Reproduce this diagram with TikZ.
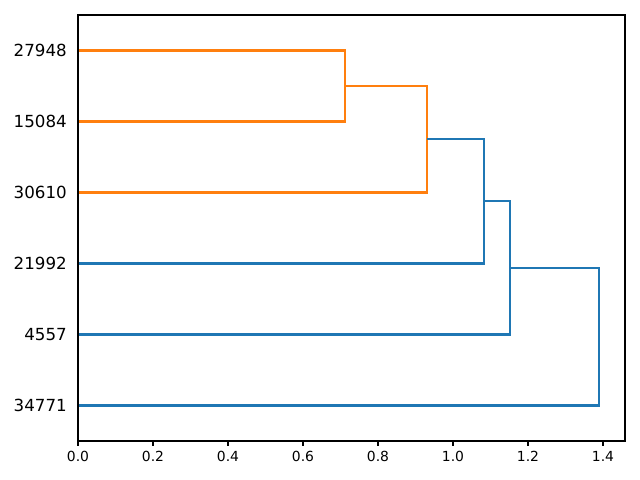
\documentclass[tikz,border=0pt]{standalone}
\usepackage{fontspec}
\setmainfont{DejaVu Sans}
\definecolor{mplorange}{HTML}{FF7F0E}
\definecolor{mplblue}{HTML}{1F77B4}
\begin{document}
\begin{tikzpicture}[x=0.72pt,y=-0.72pt,
  orangelink/.style={mplorange,line width=1.5pt},
  bluelink/.style={mplblue,line width=1.5pt},
  leaflabel/.style={anchor=east,inner sep=0pt,font=\fontsize{12}{14}\selectfont},
  ticklabel/.style={anchor=north,inner sep=0pt,font=\fontsize{10}{12}\selectfont},
  spine/.style={black,line width=0.8pt},
  tickmark/.style={black,line width=0.8pt}]
\useasboundingbox[fill=white] (0,0) rectangle (640,480);
% leaves (y positions)
\foreach \n/\lab/\yy in {l1/27948/50.5,l2/15084/121.5,l3/30610/192.5,l4/21992/263.5,l5/4557/334.5,l6/34771/405.5}{
  \node[leaflabel] (t\n) at (67,\yy) {\lab};
  \coordinate (\n) at (78,\yy);
}
% merge heights
\coordinate (a1) at (345,50.5);  \coordinate (a2) at (345,121.5);
\coordinate (am) at (345,86);
\coordinate (b1) at (427,86);    \coordinate (b2) at (427,192.5);
\coordinate (bm) at (427,139.25);
\coordinate (c1) at (484,139.25); \coordinate (c2) at (484,263.5);
\coordinate (cm) at (484,201.4);
\coordinate (d1) at (510,201.4); \coordinate (d2) at (510,334.5);
\coordinate (dm) at (510,267.9);
\coordinate (e1) at (599,267.9); \coordinate (e2) at (599,405.5);
% links
\draw[orangelink] (l1) -- (a1) -- (a2) -- (l2);
\draw[orangelink] (am) -- (b1) -- (b2) -- (l3);
\draw[bluelink] (bm) -- (c1) -- (c2) -- (l4);
\draw[bluelink] (cm) -- (d1) -- (d2) -- (l5);
\draw[bluelink] (dm) -- (e1) -- (e2) -- (l6);
% axes frame
\draw[spine] (78,15) rectangle (625,441);
% x ticks
\foreach \v/\lab in {0/0.0,1/0.2,2/0.4,3/0.6,4/0.8,5/1.0,6/1.2,7/1.4}{
  \draw[tickmark] (78+75*\v,441) -- (78+75*\v,445.9);
  \node[ticklabel] (x\v) at (78+75*\v,451) {\lab};
}
\end{tikzpicture}
\end{document}
